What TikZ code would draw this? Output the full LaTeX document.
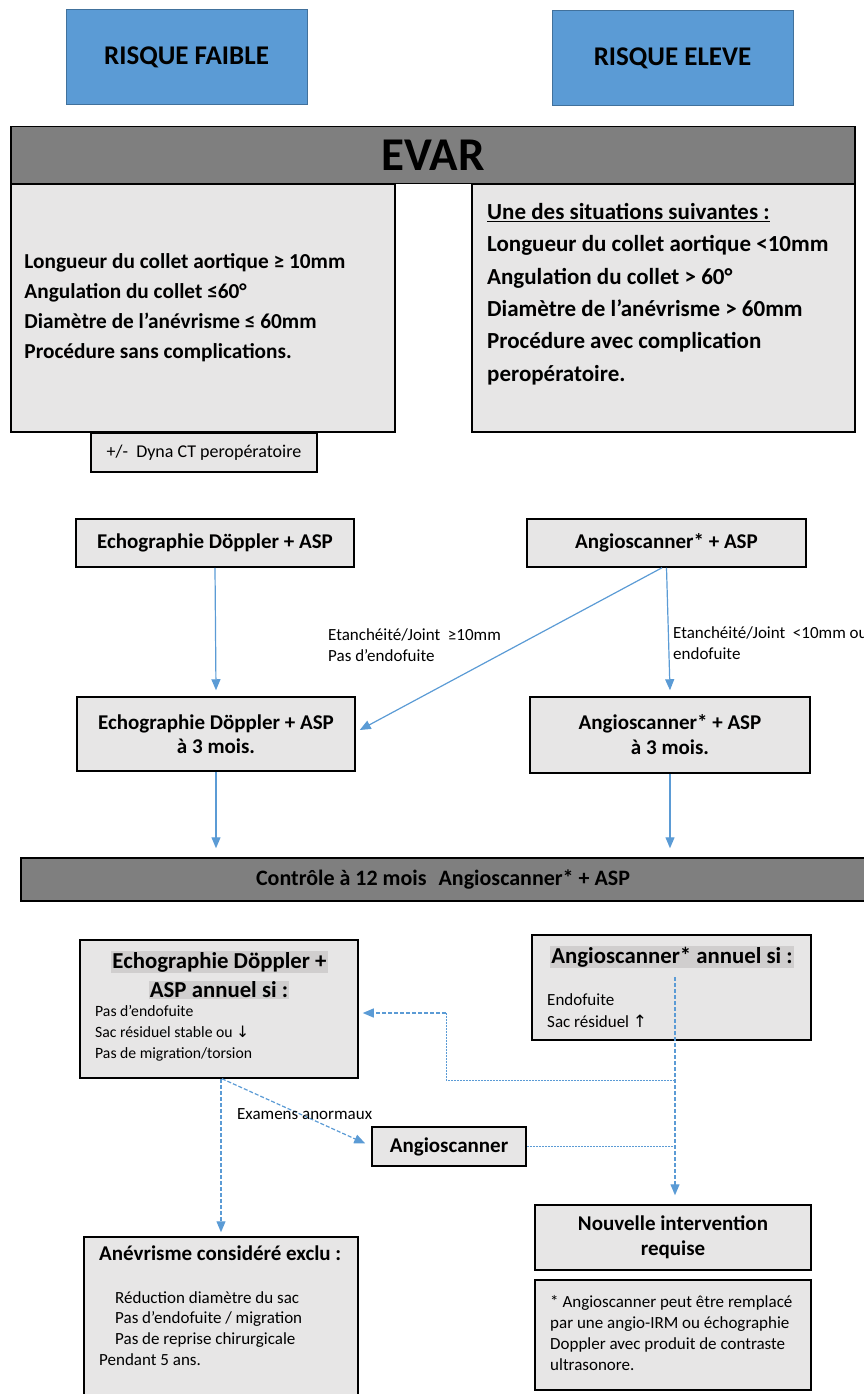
\documentclass[tikz,border=0pt]{standalone}
\usepackage{fontspec}
\setmainfont{Carlito}
\newfontfamily\symbfont{DejaVu Sans}
\usetikzlibrary{arrows.meta}
\definecolor{bleu}{HTML}{5B9BD5}
\definecolor{bleufonce}{HTML}{41719C}
\definecolor{grisbarre}{HTML}{7F7F7F}
\definecolor{grisclair}{HTML}{E7E6E6}
\definecolor{surligne}{HTML}{D0CECE}

\begin{document}
\begin{tikzpicture}[x=1pt,y=-1pt,
  risque/.style={draw=bleufonce, fill=bleu, line width=1pt, minimum width=241pt, minimum height=95pt, font=\bfseries\fontsize{27}{30}\selectfont},
  barre/.style={draw=black, fill=grisbarre, line width=1.5pt, inner sep=0pt},
  boite/.style={draw=black, fill=grisclair, line width=1.5pt, inner sep=0pt, align=center},
  texte/.style={inner sep=0pt, align=left},
  titre/.style={fill=surligne, inner sep=1pt, font=\bfseries\fontsize{22.8}{26}\selectfont},
  fleche/.style={draw=bleu, line width=1.2pt, -{Triangle[length=11pt,width=9pt]}},
  tiret/.style={fleche, dash pattern=on 4pt off 2pt},
  pointille/.style={draw=bleu, line width=0.8pt, dash pattern=on 2pt off 1pt}]

\useasboundingbox (0,0) rectangle (864,1394);

% risques
\node[risque] (faible) at (186.5,57.5) {RISQUE FAIBLE};
\node[risque] (eleve) at (672.5,58) {RISQUE ELEVE};

% EVAR
\node[barre, minimum width=844pt, minimum height=57pt, font=\bfseries\fontsize{47}{50}\selectfont] (evar) at (433,155) {EVAR};
\node[boite, minimum width=384pt, minimum height=248pt] (cfaible) at (203,308) {};
\node[boite, minimum width=383pt, minimum height=248pt] (celeve) at (663.5,308) {};
\node[texte, anchor=west, font=\bfseries\fontsize{21.3}{30}\selectfont] (tfaible) at ([xshift=14pt]cfaible.west)
  {Longueur du collet aortique ≥ 10mm\\Angulation du collet ≤60°\\Diamètre de l’anévrisme ≤ 60mm\\Procédure sans complications.};
\node[texte, anchor=west, font=\bfseries\fontsize{23}{32.4}\selectfont] (televe) at (487,294)
  {\underline{Une des situations suivantes :}\\Longueur du collet aortique <10mm\\Angulation du collet > 60°\\Diamètre de l’anévrisme > 60mm\\Procédure avec complication\\peropératoire.};
\node[boite, minimum width=226pt, minimum height=39pt, font=\fontsize{18}{20}\selectfont] (dyna) at (204,452.5) {+/-~~Dyna CT peropératoire};

% examens initiaux
\node[boite, minimum width=278pt, minimum height=48pt, font=\bfseries\fontsize{21}{25}\selectfont] (echo1) at (215,543) {Echographie Döppler + ASP};
\node[boite, minimum width=279pt, minimum height=48pt, font=\bfseries\fontsize{21}{25}\selectfont] (angio1) at (666.5,543) {Angioscanner* + ASP};
\node[boite, minimum width=278pt, minimum height=74pt, font=\bfseries\fontsize{21}{24}\selectfont] (echo2) at (216,734) {Echographie Döppler + ASP\\à 3 mois.};
\node[boite, minimum width=280pt, minimum height=76pt, font=\bfseries\fontsize{21}{25}\selectfont] (angio2) at (670,735) {Angioscanner* + ASP\\à 3 mois.};

\draw[fleche] (echo1.south) -- ([yshift=6pt]echo2.north);
\draw[fleche] ([xshift=-4.5pt]angio1.south) -- ([xshift=4pt,yshift=4pt]echo2.east);
\draw[fleche] (angio1.south) -- ([yshift=6pt]angio2.north);
\node[texte, anchor=west, font=\fontsize{17}{21}\selectfont] (joint1) at (328,645) {Etanchéité/Joint~~≥10mm\\Pas d’endofuite};
\node[texte, anchor=west, font=\fontsize{17}{21}\selectfont] (joint2) at (673,643) {Etanchéité/Joint~~<10mm ou\\endofuite};

% controle a 12 mois
\node[barre, minimum width=844pt, minimum height=43pt, font=\bfseries\fontsize{22}{24}\selectfont] (controle) at (443,879.5) {Contrôle à 12 mois\hspace{12pt}Angioscanner* + ASP};
\draw[fleche, shorten >=9pt] (echo2.south) -- (echo2.south |- controle.north);
\draw[fleche, shorten >=9pt] (angio2.south) -- (angio2.south |- controle.north);

% suivi annuel
\node[boite, minimum width=278pt, minimum height=138pt] (echoan) at (219,1009) {};
\node[titre] (techo1) at (219.5,962) {Echographie Döppler +};
\node[titre] (techo2) at (219,990) {ASP annuel si :};
\node[texte, anchor=north west, font=\fontsize{15.7}{21}\selectfont] (lecho) at (95,1005)
  {Pas d’endofuite\\Sac résiduel stable ou {\symbfont ↓}\\Pas de migration/torsion};
\node[boite, minimum width=279pt, minimum height=105pt] (angioan) at (671.5,987.5) {};
\node[titre] (tangio) at (672,957) {Angioscanner* annuel si :};
\node[texte, anchor=north west, font=\fontsize{17}{22}\selectfont] (langio) at (547,993)
  {Endofuite\\Sac résiduel {\symbfont ↑}};

\node[boite, minimum width=154pt, minimum height=39pt, font=\bfseries\fontsize{21}{24}\selectfont] (angioscan) at (449,1146.5) {Angioscanner};
\node[boite, minimum width=276pt, minimum height=65pt, font=\bfseries\fontsize{21}{25}\selectfont] (nouvelle) at (673,1237.5) {Nouvelle intervention\\requise};
\node[boite, minimum width=274pt, minimum height=166pt] (exclu) at (221,1320) {};
\node[texte, anchor=north west, font=\bfseries\fontsize{21}{24}\selectfont] (texclu) at (99,1246) {Anévrisme considéré exclu :};
\node[texte, anchor=north west, font=\fontsize{17}{20.7}\selectfont] (lexclu) at (99,1291)
  {\hspace{16pt}Réduction diamètre du sac\\\hspace{16pt}Pas d’endofuite / migration\\\hspace{16pt}Pas de reprise chirurgicale\\Pendant 5 ans.};
\node[boite, minimum width=276pt, minimum height=110pt] (note) at (673,1335) {};
\node[texte, anchor=north west, font=\fontsize{17}{21}\selectfont] (tnote) at (550,1295)
  {* Angioscanner peut être remplacé\\par une angio-IRM ou échographie\\Doppler avec produit de contraste\\ultrasonore.};

% liaisons du suivi
\coordinate (depart) at (675,977);
\coordinate (jonction) at (675,1080);
\coordinate (coude) at (446,1013);
\draw[tiret, shorten >=9pt] (depart) -- (depart |- nouvelle.north);
\draw[pointille] (jonction) -| (coude);
\draw[tiret] (coude) -- ([xshift=4pt,yshift=-4pt]echoan.east);
\draw[pointille] (angioscan.east) -- (angioscan.east -| jonction);
\draw[tiret] ([xshift=3pt]echoan.south) -- ([xshift=-6pt,yshift=3pt]angioscan.west);
\draw[tiret, shorten >=4pt] ([xshift=2pt]echoan.south) -- ([xshift=2pt]echoan.south |- exclu.north);
\node[texte, anchor=west, font=\fontsize{17}{20}\selectfont] (anormaux) at (237,1114) {Examens anormaux};

\end{tikzpicture}
\end{document}
